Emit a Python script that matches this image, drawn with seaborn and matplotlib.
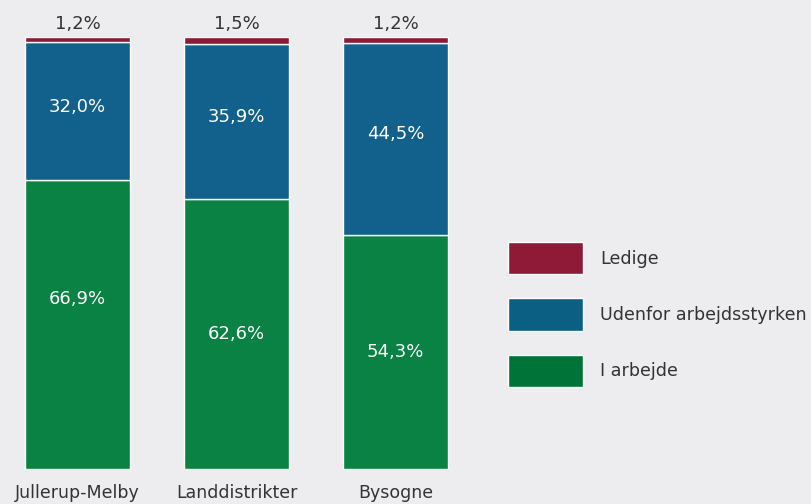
import matplotlib
matplotlib.use("Agg")
import matplotlib.pyplot as plt
import seaborn as sns
import pandas as pd
import numpy as np
from matplotlib.patches import Patch

categories = ["Jullerup-Melby", "Landdistrikter", "Bysogne"]
i_arbejde = [66.9, 62.6, 54.3]
udenfor = [32.0, 35.9, 44.5]
ledige = [1.2, 1.5, 1.2]
series_names = ["Ledige", "Udenfor arbejdsstyrken", "I arbejde"]

bg = "#EDEDEF"
c_green = "#0A8243"
c_blue = "#12618C"
c_red = "#8E1A38"
c_green_leg = "#007338"
c_blue_leg = "#0B5F82"

sns.set_theme(style="white")
plt.rcParams['font.family'] = ['DejaVu Sans']

fig = plt.figure(figsize=(8.11, 5.04), dpi=100, facecolor=bg)
ax = fig.add_axes([0, 35/504, 477/811, 432/504])
ax.set_facecolor(bg)

df = pd.DataFrame({"cat": categories, "arb": i_arbejde, "ude": udenfor, "led": ledige})
bottom2 = np.array(i_arbejde)
bottom3 = bottom2 + np.array(udenfor)

w = 105/159
sns.barplot(data=df, x="cat", y="arb", color=c_green, width=w, saturation=1,
            edgecolor="white", linewidth=1, ax=ax)
sns.barplot(data=df, x="cat", y="ude", color=c_blue, width=w, saturation=1,
            bottom=bottom2, edgecolor="white", linewidth=1, ax=ax)
sns.barplot(data=df, x="cat", y="led", color=c_red, width=w, saturation=1,
            bottom=bottom3, edgecolor="white", linewidth=1, ax=ax)

ax.set_xlim(-77.5/159, (477-77.5)/159)
ax.set_ylim(0, 100.1)
for s in ax.spines.values():
    s.set_visible(False)
ax.set_yticks([])
ax.set_xlabel("")
ax.set_ylabel("")
ax.tick_params(axis="x", length=0, pad=11, labelsize=12.5, labelcolor="#333333")

fmt = lambda v: f"{v:.1f}%".replace(".", ",")
green_offset = [6.0, 0.0, 0.0]
for i in range(3):
    ax.text(i, i_arbejde[i]/2 + green_offset[i], fmt(i_arbejde[i]), ha="center", va="center",
            color="white", fontsize=13)
    ax.text(i, bottom2[i] + udenfor[i]/2 + 1.0, fmt(udenfor[i]), ha="center", va="center",
            color="white", fontsize=13)
    ax.text(i, bottom3[i] + ledige[i] + 1.0, fmt(ledige[i]), ha="center", va="bottom",
            color="#333333", fontsize=13)

handles = [Patch(facecolor=c_red), Patch(facecolor=c_blue_leg), Patch(facecolor=c_green_leg)]
fig.legend(handles, series_names, loc="center left", bbox_to_anchor=(508/811, 1-314.5/504),
           frameon=False, handlelength=4.3, handleheight=2.45, labelspacing=1.38,
           handletextpad=0.95, borderpad=0, borderaxespad=0, fontsize=12.6,
           labelcolor="#333333")

fig.savefig("out.png", dpi=100, facecolor=bg)
